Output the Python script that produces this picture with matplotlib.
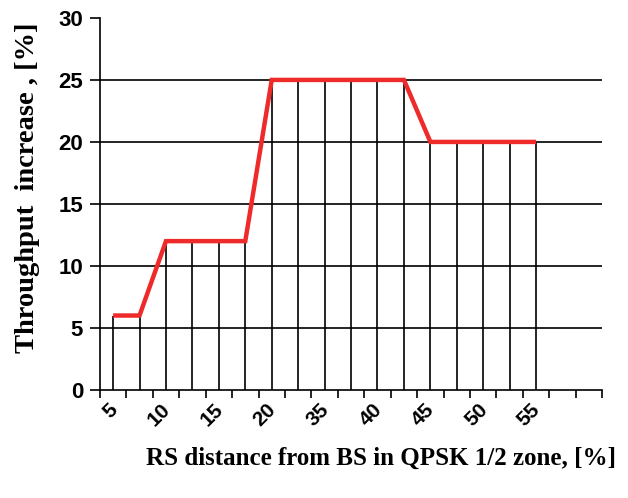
import numpy as np
import matplotlib.pyplot as plt

# category slots along the x axis (Excel-style, every other one labelled)
categories = ['5', '', '10', '', '15', '', '20', '', '35', '', '40', '',
              '45', '', '50', '', '55', '', '']
throughput = [6, 6, 12, 12, 12, 12, 25, 25, 25, 25, 25, 25, 20, 20, 20, 20, 20]
y_ticks = [0, 5, 10, 15, 20, 25, 30]


def main():
    plt.rcParams.update({
        "font.family": ["Liberation Sans", "DejaVu Sans"],
        "figure.facecolor": "white",
    })

    fig = plt.figure(figsize=(6.28, 4.98), dpi=100)
    ax = fig.add_axes([0.159, 0.217, 0.8, 0.747])

    x = np.arange(len(throughput))
    n = len(categories)

    # horizontal gridlines (not at the top)
    for yv in y_ticks[1:-1]:
        ax.axhline(yv, color="black", lw=1.2, zorder=1)

    # drop lines from each point to the axis
    ax.vlines(x, 0, throughput, color="black", lw=1.2, zorder=2)

    ax.plot(x, throughput, color="#ee2a2a", lw=3.2, solid_capstyle="butt",
            solid_joinstyle="miter", zorder=3)

    ax.set_xlim(-0.5, n - 0.5)
    ax.set_ylim(0, 30)

    # tick marks at category boundaries, labels at category centres
    ax.set_xticks(np.arange(n + 1) - 0.5)
    ax.set_xticklabels([])
    ax.tick_params(axis="x", direction="out", length=6, width=1.2)
    for i, lab in enumerate(categories):
        if lab:
            ax.text(i + 0.3, -0.8, lab, rotation=45, ha="right", va="top",
                    fontsize=15, fontweight="bold")

    ax.set_yticks(y_ticks)
    ax.tick_params(axis="y", direction="out", length=7, width=1.2,
                   labelsize=16, pad=5)
    for lab in ax.get_yticklabels():
        lab.set_fontweight("bold")

    for side in ["top", "right"]:
        ax.spines[side].set_visible(False)
    for side in ["left", "bottom"]:
        ax.spines[side].set_linewidth(1.2)
        ax.spines[side].set_color("black")

    fig.text(0.607, 0.08, "RS distance from BS in QPSK 1/2 zone, [%]",
             ha="center", va="center", fontsize=18, fontweight="bold",
             family="Liberation Serif")
    fig.text(0.043, 0.622, "Throughput  increase , [%]", rotation=90,
             ha="center", va="center", fontsize=20.5, fontweight="bold",
             family="Liberation Serif")

    fig.savefig("out.png", dpi=100)
    plt.close(fig)


if __name__ == "__main__":
    main()
